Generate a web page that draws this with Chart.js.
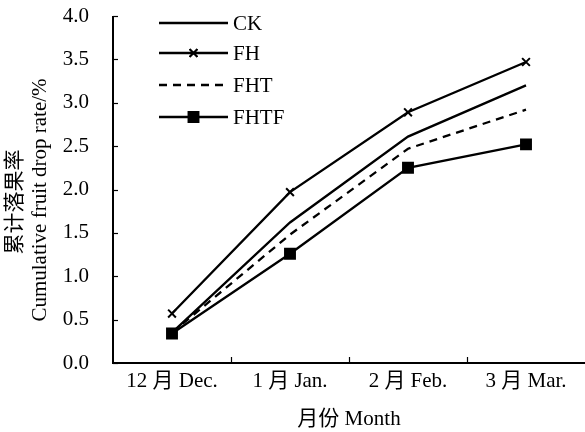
<!DOCTYPE html>
<html><head><meta charset="utf-8">
<script src="https://cdn.jsdelivr.net/npm/chart.js@4"></script>
<style>html,body{margin:0;padding:0;background:#fff}#wrap{width:585px;height:432px}</style>
</head><body><div id="wrap"><canvas id="c"></canvas></div>
<script>
const categories = ['12 月 Dec.', '1 月 Jan.', '2 月 Feb.', '3 月 Mar.'];
const seriesNames = ['CK', 'FH', 'FHT', 'FHTF'];
const ckValues   = [0.35, 1.62, 2.61, 3.20];
const fhValues   = [0.57, 1.97, 2.89, 3.47];
const fhtValues  = [0.35, 1.48, 2.47, 2.92];
const fhtfValues = [0.34, 1.26, 2.25, 2.52];
const yTicks = [0, 0.5, 1, 1.5, 2, 2.5, 3, 3.5, 4];
const xTitle = '月份 Month';
const yTitleCn = '累计落果率';
const yTitleEn = 'Cumulative fruit drop rate/%';

const FONT = '"Liberation Serif", "Times New Roman", "Noto Sans CJK SC", serif';

const styles = [
  {pointStyle: false, pointRadius: 0, borderDash: []},
  {pointStyle: 'crossRot', pointRadius: 5.5, borderDash: []},
  {pointStyle: false, pointRadius: 0, borderDash: [8, 6]},
  {pointStyle: 'rect', pointRadius: 7, borderDash: []}
];
const allValues = [ckValues, fhValues, fhtValues, fhtfValues];

const datasets = seriesNames.map((n, i) => ({
  label: n,
  data: allValues[i],
  borderColor: '#000',
  backgroundColor: '#000',
  borderWidth: 2.3,
  borderDash: styles[i].borderDash,
  pointStyle: styles[i].pointStyle,
  pointRadius: styles[i].pointRadius,
  pointBorderWidth: 2,
  tension: 0
}));

const customPlugin = {
  id: 'custom',
  afterDraw(chart) {
    const ctx = chart.ctx;
    const ca = chart.chartArea;
    const xs = chart.scales.x, ys = chart.scales.y;
    ctx.save();
    ctx.strokeStyle = '#000';
    ctx.lineWidth = 2;
    ctx.beginPath();
    ctx.moveTo(ca.left, ca.top); ctx.lineTo(ca.left, ca.bottom); ctx.lineTo(585, ca.bottom);
    ctx.stroke();
    ctx.lineWidth = 1.2;
    yTicks.forEach(v => {
      const y = Math.round(ys.getPixelForValue(v)) + 0.5;
      ctx.beginPath(); ctx.moveTo(ca.left, y); ctx.lineTo(ca.left + 5, y); ctx.stroke();
    });
    const w = xs.getPixelForValue(1) - xs.getPixelForValue(0);
    for (let i = 1; i < categories.length; i++) {
      const x = Math.round(xs.getPixelForValue(i) - w / 2) + 0.5;
      ctx.beginPath(); ctx.moveTo(x, ca.bottom); ctx.lineTo(x, ca.bottom - 6); ctx.stroke();
    }
    ctx.fillStyle = '#000';
    ctx.textAlign = 'center';
    ctx.textBaseline = 'middle';
    ctx.font = '21px ' + FONT;
    ctx.save(); ctx.translate(15, 202); ctx.rotate(-Math.PI / 2); ctx.fillText(yTitleCn, 0, 0); ctx.restore();
    ctx.save(); ctx.translate(40, 200); ctx.rotate(-Math.PI / 2); ctx.fillText(yTitleEn, 0, 0); ctx.restore();
    const lx0 = 159, lx1 = 228, ly = [23, 53, 85, 117];
    chart.data.datasets.forEach((ds, i) => {
      ctx.lineWidth = 2.5;
      ctx.setLineDash(ds.borderDash || []);
      ctx.beginPath(); ctx.moveTo(lx0, ly[i]); ctx.lineTo(lx1, ly[i]); ctx.stroke();
      ctx.setLineDash([]);
      if (ds.pointStyle) {
        ctx.lineWidth = 2;
        Chart.helpers.drawPoint(ctx, {pointStyle: ds.pointStyle, radius: ds.pointRadius, borderWidth: 2, rotation: 0}, (lx0 + lx1) / 2, ly[i]);
        ctx.fillStyle = '#000';
        if (ds.pointStyle === 'rect') ctx.fill(); else ctx.stroke();
      }
      ctx.fillStyle = '#000';
      ctx.font = '21px ' + FONT;
      ctx.textBaseline = 'middle';
      ctx.textAlign = 'left';
      ctx.fillText(ds.label, 233, ly[i] + 1);
    });
    ctx.restore();
  }
};

new Chart(document.getElementById('c'), {
  type: 'line',
  data: {labels: categories, datasets},
  options: {
    responsive: true,
    maintainAspectRatio: false,
    animation: false,
    layout: {autoPadding: false, padding: {top: 16, right: 0, left: 0, bottom: 0}},
    plugins: {legend: {display: false}, tooltip: {enabled: false}},
    scales: {
      x: {
        offset: true,
        grid: {display: false, drawTicks: false},
        border: {display: false},
        ticks: {color: '#000', font: {family: FONT, size: 21}, padding: 6, maxRotation: 0, autoSkip: false},
        title: {display: true, text: xTitle, color: '#000', font: {family: FONT, size: 21}, padding: {top: 0, bottom: 0}},
        afterFit(s) { s.height = 69; s.paddingLeft = 0; s.paddingRight = 0; }
      },
      y: {
        min: 0, max: 4,
        afterBuildTicks(s) { s.ticks = yTicks.map(v => ({value: v})); },
        grid: {display: false, drawTicks: false},
        border: {display: false},
        ticks: {color: '#000', font: {family: FONT, size: 21}, padding: 24, callback: v => Number(v).toFixed(1)},
        title: {display: false},
        afterFit(s) { s.width = 113; s.paddingTop = 0; s.paddingBottom = 0; }
      }
    }
  },
  plugins: [customPlugin]
});
</script>
</body></html>
